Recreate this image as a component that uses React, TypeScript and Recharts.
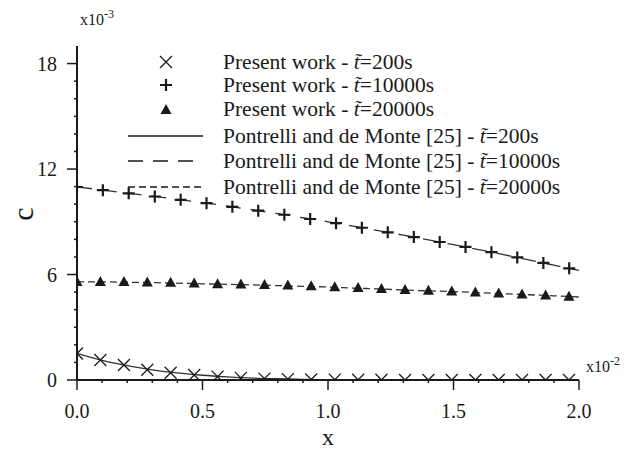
import React from 'react';
import { ComposedChart, Line, XAxis, YAxis, Legend } from 'recharts';

// ---- data (c in units of 1e-3, x in units of 1e-2) ----
const xPresent10000 = [0, 0.103, 0.206, 0.31, 0.413, 0.516, 0.619, 0.722, 0.826, 0.929, 1.032, 1.135, 1.238, 1.342, 1.445, 1.548, 1.651, 1.754, 1.858, 1.961];
const xPresent = [0, 0.093, 0.187, 0.28, 0.373, 0.467, 0.56, 0.653, 0.747, 0.84, 0.933, 1.027, 1.12, 1.213, 1.307, 1.4, 1.493, 1.587, 1.68, 1.773, 1.867, 1.96];
const present200 = [1.51, 1.14, 0.85, 0.58, 0.41, 0.28, 0.19, 0.12, 0.08, 0.05, 0.03, 0.02, 0.01, 0.01, 0, 0, 0, 0, 0, 0, 0, 0];
const present10000 = [10.98, 10.8, 10.62, 10.44, 10.25, 10.06, 9.85, 9.63, 9.4, 9.16, 8.92, 8.66, 8.4, 8.13, 7.85, 7.57, 7.27, 6.97, 6.66, 6.35];
const present20000 = [5.58, 5.58, 5.58, 5.55, 5.53, 5.49, 5.45, 5.43, 5.4, 5.37, 5.34, 5.28, 5.23, 5.18, 5.12, 5.08, 5.04, 4.98, 4.92, 4.87, 4.81, 4.74];

const xRef = [0, 0.1, 0.2, 0.3, 0.4, 0.5, 0.6, 0.7, 0.8, 0.9, 1.0, 1.1, 1.2, 1.3, 1.4, 1.5, 1.6, 1.7, 1.8, 1.9, 2.0];
const ref200 = [1.52, 1.12, 0.82, 0.58, 0.4, 0.27, 0.18, 0.11, 0.07, 0.04, 0.02, 0.01, 0.01, 0, 0, 0, 0, 0, 0, 0, 0];
const ref10000 = [10.98, 10.81, 10.63, 10.46, 10.27, 10.09, 9.89, 9.68, 9.46, 9.23, 9.0, 8.75, 8.5, 8.24, 7.97, 7.7, 7.42, 7.13, 6.83, 6.53, 6.23];
const ref20000 = [5.58, 5.58, 5.56, 5.54, 5.51, 5.47, 5.44, 5.41, 5.37, 5.33, 5.29, 5.23, 5.18, 5.12, 5.07, 5.03, 4.97, 4.91, 4.85, 4.79, 4.72];

const xMinorTicks = [0, 0.1, 0.2, 0.3, 0.4, 0.5, 0.6, 0.7, 0.8, 0.9, 1.0, 1.1, 1.2, 1.3, 1.4, 1.5, 1.6, 1.7, 1.8, 1.9, 2.0];
const xMajorTicks = [0, 0.5, 1.0, 1.5, 2.0];
const xTickLabels = ['0.0', '0.5', '1.0', '1.5', '2.0'];
const yMinorTicks = [0, 1, 2, 3, 4, 5, 6, 7, 8, 9, 10, 11, 12, 13, 14, 15, 16, 17, 18];
const yMajorTicks = [0, 6, 12, 18];
const yTickLabels = ['0', '6', '12', '18'];

const legendLabels = [
  ['Present work - ', '=200s'],
  ['Present work - ', '=10000s'],
  ['Present work - ', '=20000s'],
  ['Pontrelli and de Monte [25] - ', '=200s'],
  ['Pontrelli and de Monte [25] - ', '=10000s'],
  ['Pontrelli and de Monte [25] - ', '=20000s'],
];

const toPts = (xs: number[], ys: number[]) => xs.map((x, i) => ({ x, c: ys[i] }));

const FONT = "'Liberation Serif', 'DejaVu Serif', serif";
const INK = '#1a1a1a';
const tx = (size: number, extra: any = {}) => ({ fontFamily: FONT, fontSize: size, fill: INK, ...extra });

const crossPath = (cx: number, cy: number) => `M${cx - 6},${cy - 6}L${cx + 6},${cy + 6}M${cx - 6},${cy + 6}L${cx + 6},${cy - 6}`;
const plusPath = (cx: number, cy: number) => `M${cx - 6},${cy}L${cx + 6},${cy}M${cx},${cy - 6}L${cx},${cy + 6}`;
const triPath = (cx: number, cy: number) => `M${cx},${cy - 6}L${cx + 5.5},${cy + 4}L${cx - 5.5},${cy + 4}Z`;

const CrossDot = (p: any) => <path key={`x${p.index}`} d={crossPath(p.cx, p.cy)} stroke={INK} strokeWidth={1.3} fill="none" />;
const PlusDot = (p: any) => <path key={`p${p.index}`} d={plusPath(p.cx, p.cy)} stroke={INK} strokeWidth={2.2} fill="none" />;
const TriDot = (p: any) => <path key={`t${p.index}`} d={triPath(p.cx, p.cy)} fill={INK} stroke="none" />;

const near = (a: number, b: number) => Math.abs(a - b) < 1e-6;

const XTick = (p: any) => {
  const v = p.payload.value;
  const mi = xMajorTicks.findIndex((m) => near(m, v));
  const major = mi >= 0;
  return (
    <g>
      <line x1={p.x} x2={p.x} y1={p.y} y2={p.y + (major ? 10 : 3)} stroke={INK} strokeWidth={1.5} />
      {major && (
        <text x={p.x} y={p.y + 38} textAnchor="middle" style={tx(20)}>
          {xTickLabels[mi]}
        </text>
      )}
    </g>
  );
};

const YTick = (p: any) => {
  const v = p.payload.value;
  const mi = yMajorTicks.findIndex((m) => near(m, v));
  const major = mi >= 0;
  return (
    <g>
      <line x1={p.x - (major ? 10 : 3)} x2={p.x} y1={p.y} y2={p.y} stroke={INK} strokeWidth={1.5} />
      {major && (
        <text x={p.x - 20} y={p.y + 7} textAnchor="end" style={tx(20)}>
          {yTickLabels[mi]}
        </text>
      )}
    </g>
  );
};

const rowY = [62, 85, 109, 136, 161, 187];

const LegendBox = () => (
  <svg width={638} height={450} style={{ position: 'absolute', left: 0, top: 0, overflow: 'visible' }}>
    {/* exponent labels */}
    <text x={80} y={25} style={tx(16)}>
      x10<tspan dy={-7} style={{ fontSize: 12 }}>-3</tspan>
    </text>
    <text x={586} y={372} style={tx(16)}>
      x10<tspan dy={-7} style={{ fontSize: 12 }}>-2</tspan>
    </text>
    {/* symbols */}
    <path d={crossPath(166, rowY[0])} stroke={INK} strokeWidth={1.3} fill="none" />
    <path d={plusPath(166, rowY[1])} stroke={INK} strokeWidth={2.2} fill="none" />
    <path d={triPath(166, rowY[2] + 1)} fill={INK} />
    <line x1={128} x2={203} y1={rowY[3]} y2={rowY[3]} stroke={INK} strokeWidth={1.3} />
    <line x1={128} x2={203} y1={rowY[4]} y2={rowY[4]} stroke={INK} strokeWidth={1.3} strokeDasharray="15 10" />
    <line x1={128} x2={203} y1={rowY[5]} y2={rowY[5]} stroke={INK} strokeWidth={1.3} strokeDasharray="7 4" />
    {legendLabels.map((l, i) => (
      <text key={i} x={223} y={rowY[i] + 7} style={tx(21.5)}>
        {l[0]}
        <tspan style={{ fontStyle: 'italic' }}>{'t\u0303'}</tspan>
        {l[1]}
      </text>
    ))}
  </svg>
);

export default function App() {
  return (
    <div style={{ position: 'absolute', left: 0, top: 0, width: 638, height: 450, background: '#fff', fontFamily: FONT }}>
      <ComposedChart width={638} height={450} margin={{ top: 46, right: 59, bottom: 40, left: 37 }}>
        <XAxis
          xAxisId="b"
          type="number"
          dataKey="x"
          domain={[0, 2]}
          ticks={xMinorTicks}
          interval={0}
          tickSize={0}
          tickMargin={0}
          tickLine={false}
          tick={<XTick />}
          height={30}
          axisLine={{ stroke: INK, strokeWidth: 2 }}
          allowDataOverflow
          label={{
            content: (props: any) => (
              <text x={props.viewBox.x + props.viewBox.width / 2} y={props.viewBox.y + 65} textAnchor="middle" style={tx(24)}>
                x
              </text>
            ),
          }}
        />
        <XAxis xAxisId="t" orientation="top" type="number" dataKey="x" domain={[0, 2]} height={0} tick={false} tickLine={false} axisLine={{ stroke: INK, strokeWidth: 2 }} allowDataOverflow />
        <YAxis
          yAxisId="l"
          type="number"
          domain={[0, 19]}
          ticks={yMinorTicks}
          interval={0}
          tickSize={0}
          tickMargin={0}
          tickLine={false}
          tick={<YTick />}
          width={40}
          axisLine={{ stroke: INK, strokeWidth: 2 }}
          allowDataOverflow
          label={{
            content: () => (
              <text x={22} y={214} textAnchor="middle" dominantBaseline="central" transform="rotate(-90 22 214)" style={tx(30)}>
                c
              </text>
            ),
          }}
        />
        <YAxis yAxisId="r" orientation="right" type="number" domain={[0, 19]} width={0} tick={false} tickLine={false} axisLine={{ stroke: INK, strokeWidth: 2 }} allowDataOverflow />

        <Line xAxisId="b" yAxisId="l" data={toPts(xRef, ref200)} dataKey="c" type="monotone" stroke="#333" strokeWidth={1.3} dot={false} activeDot={false} isAnimationActive={false} />
        <Line xAxisId="b" yAxisId="l" data={toPts(xRef, ref10000)} dataKey="c" type="monotone" stroke="#333" strokeWidth={1.3} strokeDasharray="15 10" dot={false} activeDot={false} isAnimationActive={false} />
        <Line xAxisId="b" yAxisId="l" data={toPts(xRef, ref20000)} dataKey="c" type="monotone" stroke="#333" strokeWidth={1.3} strokeDasharray="7 4" dot={false} activeDot={false} isAnimationActive={false} />

        <Line xAxisId="b" yAxisId="l" data={toPts(xPresent, present200)} dataKey="c" stroke="none" dot={CrossDot} activeDot={false} isAnimationActive={false} />
        <Line xAxisId="b" yAxisId="l" data={toPts(xPresent10000, present10000)} dataKey="c" stroke="none" dot={PlusDot} activeDot={false} isAnimationActive={false} />
        <Line xAxisId="b" yAxisId="l" data={toPts(xPresent, present20000)} dataKey="c" stroke="none" dot={TriDot} activeDot={false} isAnimationActive={false} />

        <Legend layout="horizontal" verticalAlign="middle" align="center" wrapperStyle={{ left: 0, top: 0, width: 638, height: 450, pointerEvents: 'none' }} content={() => <LegendBox />} />
      </ComposedChart>
    </div>
  );
}
